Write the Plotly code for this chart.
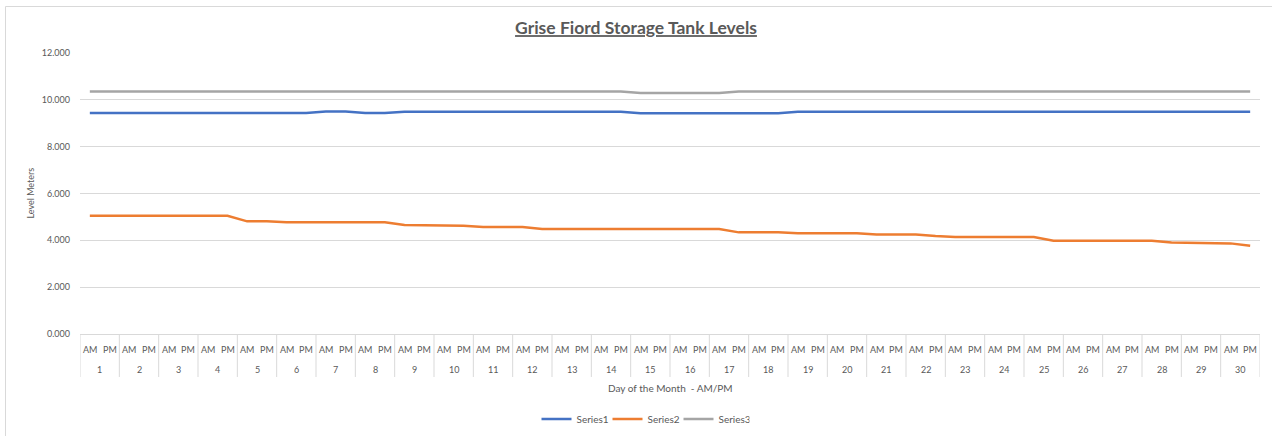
import plotly.graph_objects as go

days = [str(d) for d in range(1, 31)]
periods = ["AM", "PM"]

series1 = [9.44] * 12 + [9.50, 9.50] + [9.44, 9.44] + [9.49] * 12 + [9.43] * 8 + [9.49] * 24
series2 = ([5.05] * 8 + [4.81, 4.81] + [4.77] * 6 + [4.65, 4.65, 4.65, 4.62]
           + [4.57, 4.57, 4.57] + [4.48] * 10 + [4.34] * 3 + [4.30] * 4
           + [4.25] * 3 + [4.18] + [4.14] * 5 + [3.98] * 6
           + [3.91, 3.90, 3.87, 3.87, 3.77])
series3 = [10.36] * 28 + [10.29] * 5 + [10.36] * 27

x_outer = [d for d in days for _ in periods]
x_inner = [p for _ in days for p in periods]
x_keys = [f"{d} {p}" for d, p in zip(x_outer, x_inner)]

FONT = "Lato, Open Sans, sans-serif"
TXT = "#595959"
GRID = "#D9D9D9"

fig = go.Figure()
for name, vals, col in [("Series1", series1, "#4472C4"),
                        ("Series2", series2, "#ED7D31"),
                        ("Series3", series3, "#A5A5A5")]:
    fig.add_trace(go.Scatter(x=x_keys, y=vals, name=name, mode="lines",
                             line=dict(color=col, width=2.5)))

fig.update_layout(
    width=1272, height=436,
    margin=dict(l=80, r=12, t=53, b=102, autoexpand=False),
    paper_bgcolor="white", plot_bgcolor="white",
    font=dict(family=FONT, color=TXT, size=9),
    title=dict(text="<b><u>Grise Fiord Storage Tank Levels</u></b>",
               x=0.5, xanchor="center", y=1 - 28 / 436, yanchor="middle",
               font=dict(size=17.5, color=TXT, family=FONT)),
    showlegend=True,
    legend=dict(orientation="h", xref="container", yref="container",
                x=643 / 1272, xanchor="center", y=(436 - 419) / 436, yanchor="middle",
                font=dict(size=10, color=TXT), itemwidth=30,
                entrywidth=26, entrywidthmode="pixels"),
)
fig.update_yaxes(range=[0, 12], dtick=2, tickformat=".3f", automargin=False,
                 showgrid=True, gridcolor=GRID, gridwidth=1,
                 zeroline=False, showline=False, ticks="", ticklabelstandoff=9,
                 tickfont=dict(size=9, color=TXT))
fig.update_xaxes(type="category", range=[-0.5, len(x_keys) - 0.5], automargin=False,
                 showgrid=False, showline=True, linecolor=GRID, linewidth=1,
                 showticklabels=False, ticks="")

# category axis labels (inner AM/PM row and outer day row)
for i, lab in enumerate(x_inner):
    fig.add_annotation(x=i, xref="x", y=-0.0534, yref="paper", text=lab, showarrow=False,
                       yanchor="middle", font=dict(size=9, color=TXT))
for k, d in enumerate(days):
    fig.add_annotation(x=2 * k + 0.5, xref="x", y=-0.1246, yref="paper", text=d,
                       showarrow=False, yanchor="middle", font=dict(size=9, color=TXT))
for k in range(len(days) + 1):
    fig.add_shape(type="line", xref="x", yref="paper", x0=2 * k - 0.5, x1=2 * k - 0.5,
                  y0=0, y1=-0.153, line=dict(color=GRID, width=1))

# axis titles
fig.add_annotation(x=0.5, xref="paper", y=-0.192, yref="paper", text="Day of the Month  - AM/PM",
                   showarrow=False, yanchor="middle", font=dict(size=10, color=TXT))
fig.add_annotation(x=(30 - 80) / 1180, xref="paper", y=0.5, yref="paper", text="Level Meters",
                   textangle=-90, showarrow=False, xanchor="center", yanchor="middle",
                   font=dict(size=9, color=TXT))

# chart-area border
fig.add_shape(type="rect", xref="paper", yref="paper",
              x0=(5.5 - 80) / 1180, x1=1.05, y0=-0.5, y1=(334 - 6.5) / 281,
              line=dict(color=GRID, width=1), fillcolor="rgba(0,0,0,0)", layer="below")

fig.write_html("out.html", config={"displayModeBar": False},
               post_script="document.body.style.margin='0';")
